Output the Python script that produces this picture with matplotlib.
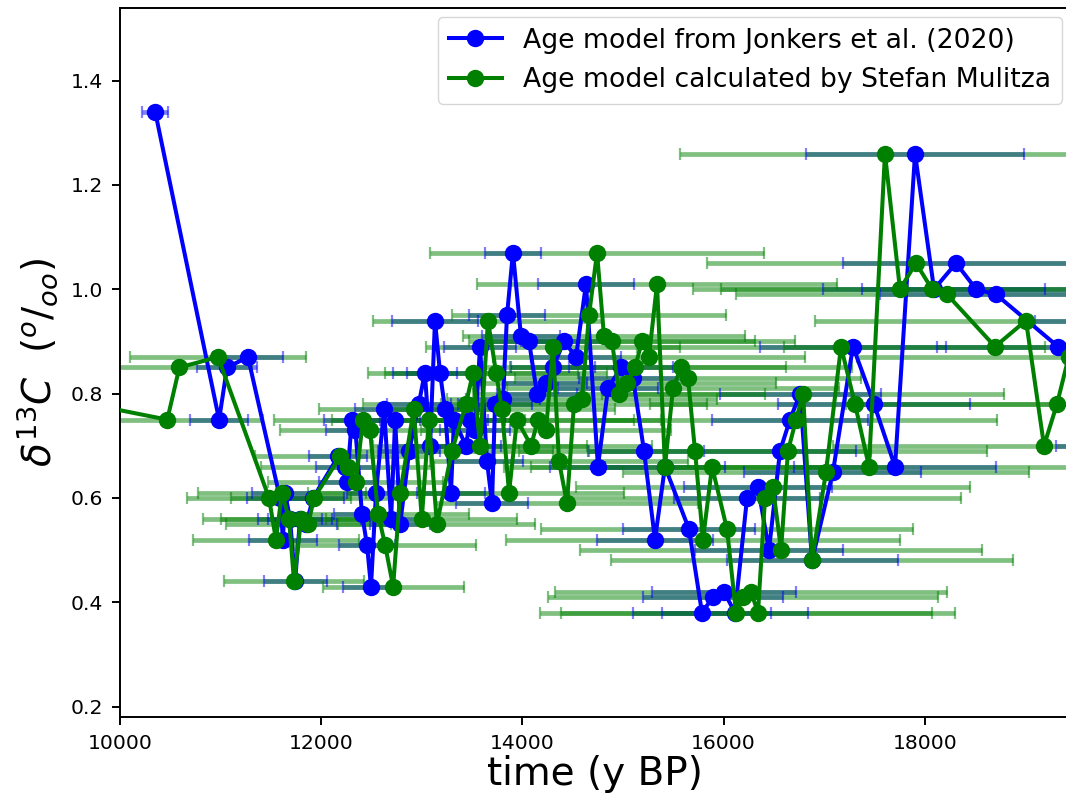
import matplotlib
matplotlib.use("Agg")
import matplotlib.pyplot as plt
import numpy as np

# d13C values (same samples for both age models, ordered by depth)
d13c = [1.34, 0.75, 0.85, 0.87, 0.60, 0.52, 0.61, 0.56, 0.44, 0.56, 0.55, 0.60,
        0.68, 0.66, 0.63, 0.75, 0.73, 0.57, 0.51, 0.43, 0.61, 0.77, 0.56, 0.75,
        0.55, 0.69, 0.78, 0.84, 0.70, 0.94, 0.84, 0.77, 0.61, 0.75, 0.70, 0.75,
        0.73, 0.89, 0.67, 0.59, 0.78, 0.79, 0.95, 1.07, 0.91, 0.90, 0.80, 0.82,
        0.85, 0.90, 0.87, 1.01, 0.66, 0.81, 0.85, 0.83, 0.69, 0.52, 0.66, 0.54,
        0.38, 0.41, 0.42, 0.38, 0.60, 0.62, 0.50, 0.69, 0.75, 0.80, 0.48, 0.65,
        0.89, 0.78, 0.66, 1.26, 1.00, 1.05, 1.00, 0.99, 0.89, 0.94, 0.70, 0.78,
        0.87]

# Age model from Jonkers et al. (2020)
age_jonkers = [10350, 10985, 11064, 11272, 11590, 11620, 11640, 11690, 11740, 11790, 11850, 11920,
               12170, 12235, 12255, 12305, 12340, 12405, 12455, 12495, 12545, 12625, 12695, 12735,
               12785, 12875, 12970, 13030, 13082, 13131, 13181, 13231, 13290, 13320, 13439, 13479,
               13530, 13579, 13648, 13698, 13728, 13807, 13847, 13906, 13986, 14066, 14145, 14235,
               14304, 14413, 14533, 14632, 14751, 14851, 14980, 15099, 15209, 15318, 15417, 15656,
               15785, 15895, 16004, 16113, 16233, 16342, 16451, 16561, 16660, 16760, 16879, 17087,
               17286, 17495, 17704, 17903, 18092, 18311, 18510, 18708, 19324, 20400, 20600, 20800,
               21000]
err_jonkers = [130, 290, 300, 350, 330, 340, 330, 320, 313, 320, 310, 310,
               290, 290, 280, 280, 290, 280, 280, 280, 290, 290, 300, 300,
               300, 310, 320, 320, 330, 428, 330, 340, 340, 340, 350, 350,
               350, 360, 360, 360, 370, 370, 380, 280, 390, 400, 400, 410,
               420, 430, 450, 477, 480, 500, 520, 540, 560, 580, 600, 660,
               686, 696, 716, 725, 730, 735, 736, 760, 780, 800, 850, 880,
               920, 950, 1000, 1083, 1100, 1124, 1130, 1150, 1200, 1300, 1300, 1300,
               1300]

# Age model calculated by Stefan Mulitza
age_mulitza = [-4900, 10470, 10590, 10974, 11481, 11550, 11610, 11680, 11730, 11800, 11870, 11930,
               12190, 12265, 12345, 12415, 12485, 12565, 12635, 12715, 12785, 12920, 13000, 13070,
               13150, 13300, 13439, 13509, 13579, 13658, 13738, 13797, 13867, 13946, 14086, 14155,
               14235, 14304, 14364, 14443, 14513, 14592, 14662, 14742, 14811, 14891, 14960, 15040,
               15119, 15189, 15258, 15338, 15417, 15497, 15577, 15646, 15716, 15795, 15885, 16034,
               16123, 16193, 16272, 16342, 16412, 16491, 16571, 16640, 16720, 16790, 16879, 17018,
               17167, 17306, 17445, 17604, 17753, 17912, 18072, 18221, 18698, 19006, 19185, 19314,
               19430]
err_mulitza = [900, 950, 720, 875, 815, 824, 835, 855, 700, 800, 820, 830,
               850, 860, 870, 880, 890, 900, 900, 700, 920, 940, 950, 960,
               980, 1000, 1020, 1040, 1060, 1140, 1100, 1120, 1140, 1160, 1200, 1220,
               1240, 1260, 1280, 1300, 1320, 1340, 1360, 1660, 1400, 1420, 1450, 1480,
               1500, 1520, 1550, 1790, 1600, 1650, 1700, 1720, 1750, 1958, 1800, 1850,
               1948, 1939, 1948, 1957, 1950, 1960, 2000, 1980, 2000, 2000, 2000, 2020,
               2030, 2040, 2050, 2040, 2060, 2080, 2100, 2100, 2100, 2100, 2100, 2100,
               2100]

W, H = 1066, 805
fig = plt.figure(figsize=(W / 100, H / 100), dpi=100)
ax = fig.add_axes([120 / W, 88 / H, (1070 - 120) / W, (717 - 7.5) / H])

# error bars (drawn first, semi-transparent)
eb_b = ax.errorbar(age_jonkers, d13c, xerr=err_jonkers, fmt='none',
                   ecolor=(0, 0, 1, 0.5), elinewidth=3.4, capsize=4.5, capthick=1.6)
eb_g = ax.errorbar(age_mulitza, d13c, xerr=err_mulitza, fmt='none',
                   ecolor=(0, 0.5, 0, 0.5), elinewidth=3.4, capsize=4.5, capthick=1.6)
for eb in (eb_b, eb_g):
    eb[2][0].set_zorder(1.0)
for cl in eb_b[1]:
    cl.set_zorder(1.6)
for cl in eb_g[1]:
    cl.set_zorder(1.7)

ax.plot(age_jonkers, d13c, 'o-', color='blue', lw=2.9, ms=11.5,
        label='Age model from Jonkers et al. (2020)', zorder=3)
ax.plot(age_mulitza, d13c, 'o-', color='green', lw=2.9, ms=11.5,
        label='Age model calculated by Stefan Mulitza', zorder=3.1)

ax.set_xlim(10000, 10000 + 950 / 0.1006)
ax.set_ylim(0.18, 1.54)
ax.set_xticks([10000, 12000, 14000, 16000, 18000])
ax.set_yticks([0.2, 0.4, 0.6, 0.8, 1.0, 1.2, 1.4])
ax.tick_params(labelsize=14.7, length=6, width=1.4, pad=6)
for s in ax.spines.values():
    s.set_linewidth(1.4)

ax.set_xlabel('time (y BP)', fontsize=28, labelpad=2)
ax.set_ylabel(r'$\delta^{13}C$  ($^o/_{oo}$)', fontsize=28, labelpad=8)

leg = ax.legend(loc='upper right', bbox_to_anchor=(1062 / W, 1 - 17 / H),
                bbox_transform=fig.transFigure, borderaxespad=0, fontsize=19.2,
                framealpha=0.8)

fig.savefig('out.png', dpi=100)
